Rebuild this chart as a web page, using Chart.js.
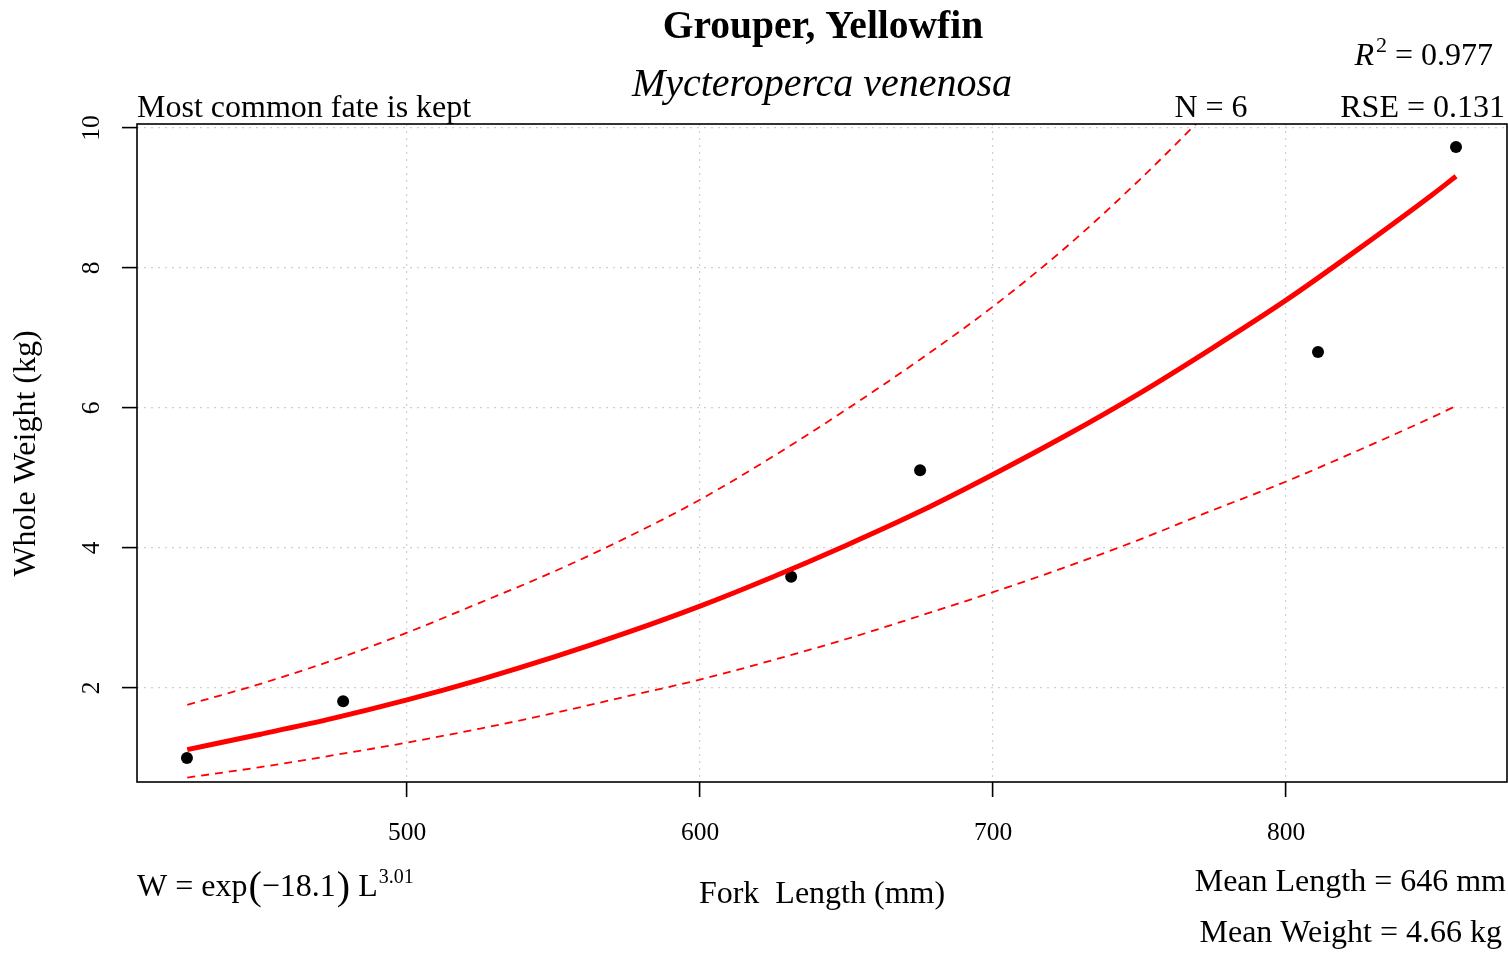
<!DOCTYPE html>
<html>
<head>
<meta charset="utf-8">
<script src="https://cdn.jsdelivr.net/npm/chart.js@4.4.1/dist/chart.umd.min.js"></script>
<style>
  body { margin: 0; background: #fff; }
  #wrap { width: 1508px; height: 954px; }
</style>
</head>
<body>
<div id="wrap"><canvas id="lwChart" width="1508" height="954"></canvas></div>
<script>
// observed fish: fork length (mm) and whole weight (kg)
const lengths = [424.9, 478.2, 631.1, 675.1, 810.9, 858.0];
const weights = [1.00, 1.81, 3.59, 5.11, 6.80, 9.73];

// fitted length-weight curve
const fitLength = [425, 450, 475, 500, 525, 550, 575, 600, 625, 650, 675, 700, 725, 750, 775, 800, 825, 850, 858];
const fitWeight = [1.12, 1.34, 1.57, 1.83, 2.12, 2.44, 2.79, 3.17, 3.59, 4.04, 4.52, 5.05, 5.61, 6.21, 6.86, 7.54, 8.28, 9.05, 9.31];

// prediction bands
const upperLength = [425, 450, 475, 500, 525, 550, 575, 600, 625, 650, 675, 700, 725, 750, 775];
const upperWeight = [1.76, 2.06, 2.40, 2.79, 3.22, 3.66, 4.15, 4.69, 5.31, 5.98, 6.69, 7.45, 8.30, 9.26, 10.30];
const lowerLength = [425, 450, 475, 500, 525, 550, 575, 600, 625, 650, 675, 700, 725, 750, 775, 800, 825, 850, 858];
const lowerWeight = [0.72, 0.87, 1.04, 1.22, 1.42, 1.64, 1.88, 2.12, 2.40, 2.70, 3.03, 3.37, 3.73, 4.12, 4.54, 4.95, 5.40, 5.87, 6.03];

const xTicks = [500, 600, 700, 800];
const yTicks = [2, 4, 6, 8, 10];

const SERIF = "'Liberation Serif', 'Times New Roman', serif";
const RED = '#ff0000';

function pairs(xs, ys) {
  return xs.map((x, i) => ({ x: x, y: ys[i] }));
}

function put(ctx, s, x, y, font, align) {
  ctx.font = font;
  ctx.textAlign = align || 'left';
  ctx.fillText(s, x, y);
  return ctx.measureText(s).width;
}

// box, tick labels and all the annotation text
const annotations = {
  id: 'annotations',
  afterDatasetsDraw(chart) {
    const { ctx, chartArea: a, scales } = chart;
    ctx.save();
    ctx.strokeStyle = '#000';
    ctx.lineWidth = 1.6;
    ctx.strokeRect(a.left, a.top, a.right - a.left, a.bottom - a.top);

    ctx.fillStyle = '#000';
    ctx.textBaseline = 'alphabetic';

    xTicks.forEach(v => put(ctx, String(v), scales.x.getPixelForValue(v), 840, '25.5px ' + SERIF, 'center'));
    yTicks.forEach(v => {
      ctx.save();
      ctx.translate(99, scales.y.getPixelForValue(v));
      ctx.rotate(-Math.PI / 2);
      put(ctx, String(v), 0, 0, '25.5px ' + SERIF, 'center');
      ctx.restore();
    });

    // titles
    put(ctx, 'Grouper, Yellowfin', 823, 38, 'bold 39.5px ' + SERIF, 'center');
    put(ctx, 'Mycteroperca venenosa', 822, 96, 'italic 40px ' + SERIF, 'center');
    put(ctx, 'Most common fate is kept', 137, 117, '32px ' + SERIF, 'left');
    put(ctx, 'N = 6', 1211, 117, '32px ' + SERIF, 'center');
    put(ctx, 'RSE = 0.131', 1505, 117, '32px ' + SERIF, 'right');

    // R^2 = 0.977, right aligned
    ctx.font = '32px ' + SERIF;
    const rest = ' = 0.977';
    const wRest = ctx.measureText(rest).width;
    ctx.font = '22px ' + SERIF;
    const wSup = ctx.measureText('2').width;
    ctx.font = 'italic 32px ' + SERIF;
    const wR = ctx.measureText('R').width;
    let rx = 1493 - wRest - wSup - wR - 2;
    rx += put(ctx, 'R', rx, 65, 'italic 32px ' + SERIF) + 2;
    rx += put(ctx, '2', rx, 52, '22px ' + SERIF);
    put(ctx, rest, rx, 65, '32px ' + SERIF);

    // axis titles
    put(ctx, 'Fork  Length (mm)', 822, 903, '32px ' + SERIF, 'center');
    ctx.save();
    ctx.translate(35, scales.y.getPixelForValue(5.35));
    ctx.rotate(-Math.PI / 2);
    put(ctx, 'Whole Weight (kg)', 0, 0, '32px ' + SERIF, 'center');
    ctx.restore();

    // fitted equation
    let ex = 137;
    ex += put(ctx, 'W = exp', ex, 896, '32px ' + SERIF);
    ex += put(ctx, '(', ex + 1, 899, '40px ' + SERIF) + 1;
    ex += put(ctx, '\u221218.1', ex, 896, '32px ' + SERIF);
    ex += put(ctx, ')', ex + 1, 899, '40px ' + SERIF) + 1;
    ex += put(ctx, ' L', ex, 896, '32px ' + SERIF);
    put(ctx, '3.01', ex + 1, 883, '20px ' + SERIF);

    put(ctx, 'Mean Length = 646 mm', 1506, 891, '32px ' + SERIF, 'right');
    put(ctx, 'Mean Weight = 4.66 kg', 1502, 942, '32px ' + SERIF, 'right');
    ctx.restore();
  }
};

const axisCommon = {
  type: 'linear',
  ticks: { display: false },
  grid: {
    color: '#cfcfcf',
    lineWidth: 1.2,
    drawTicks: true,
    tickLength: 15,
    tickColor: '#000',
    tickWidth: 1.6
  },
  border: { display: false, dash: [2, 5] }
};

new Chart(document.getElementById('lwChart'), {
  type: 'scatter',
  data: {
    datasets: [
      {
        label: 'Upper',
        data: pairs(upperLength, upperWeight),
        showLine: true,
        borderColor: RED,
        borderWidth: 1.8,
        borderDash: [8, 6],
        pointRadius: 0,
        cubicInterpolationMode: 'monotone'
      },
      {
        label: 'Lower',
        data: pairs(lowerLength, lowerWeight),
        showLine: true,
        borderColor: RED,
        borderWidth: 1.8,
        borderDash: [8, 6],
        pointRadius: 0,
        cubicInterpolationMode: 'monotone'
      },
      {
        label: 'Fit',
        data: pairs(fitLength, fitWeight),
        showLine: true,
        borderColor: RED,
        borderWidth: 5,
        pointRadius: 0,
        cubicInterpolationMode: 'monotone'
      },
      {
        label: 'Observed',
        data: pairs(lengths, weights),
        showLine: false,
        pointRadius: 6,
        pointBackgroundColor: '#000',
        pointBorderWidth: 0
      }
    ]
  },
  options: {
    responsive: false,
    animation: false,
    devicePixelRatio: 1,
    layout: { autoPadding: false, padding: { top: 124, right: 1, left: 0, bottom: 0 } },
    plugins: {
      legend: { display: false },
      tooltip: { enabled: false }
    },
    scales: {
      x: Object.assign({}, axisCommon, {
        min: 407.85,
        max: 875.4,
        afterBuildTicks: s => { s.ticks = xTicks.map(v => ({ value: v })); },
        afterFit: s => { s.height = 954 - 782; }
      }),
      y: Object.assign({}, axisCommon, {
        min: 0.657,
        max: 10.057,
        afterBuildTicks: s => { s.ticks = yTicks.map(v => ({ value: v })); },
        afterFit: s => { s.width = 137; }
      })
    }
  },
  plugins: [annotations]
});
</script>
</body>
</html>
